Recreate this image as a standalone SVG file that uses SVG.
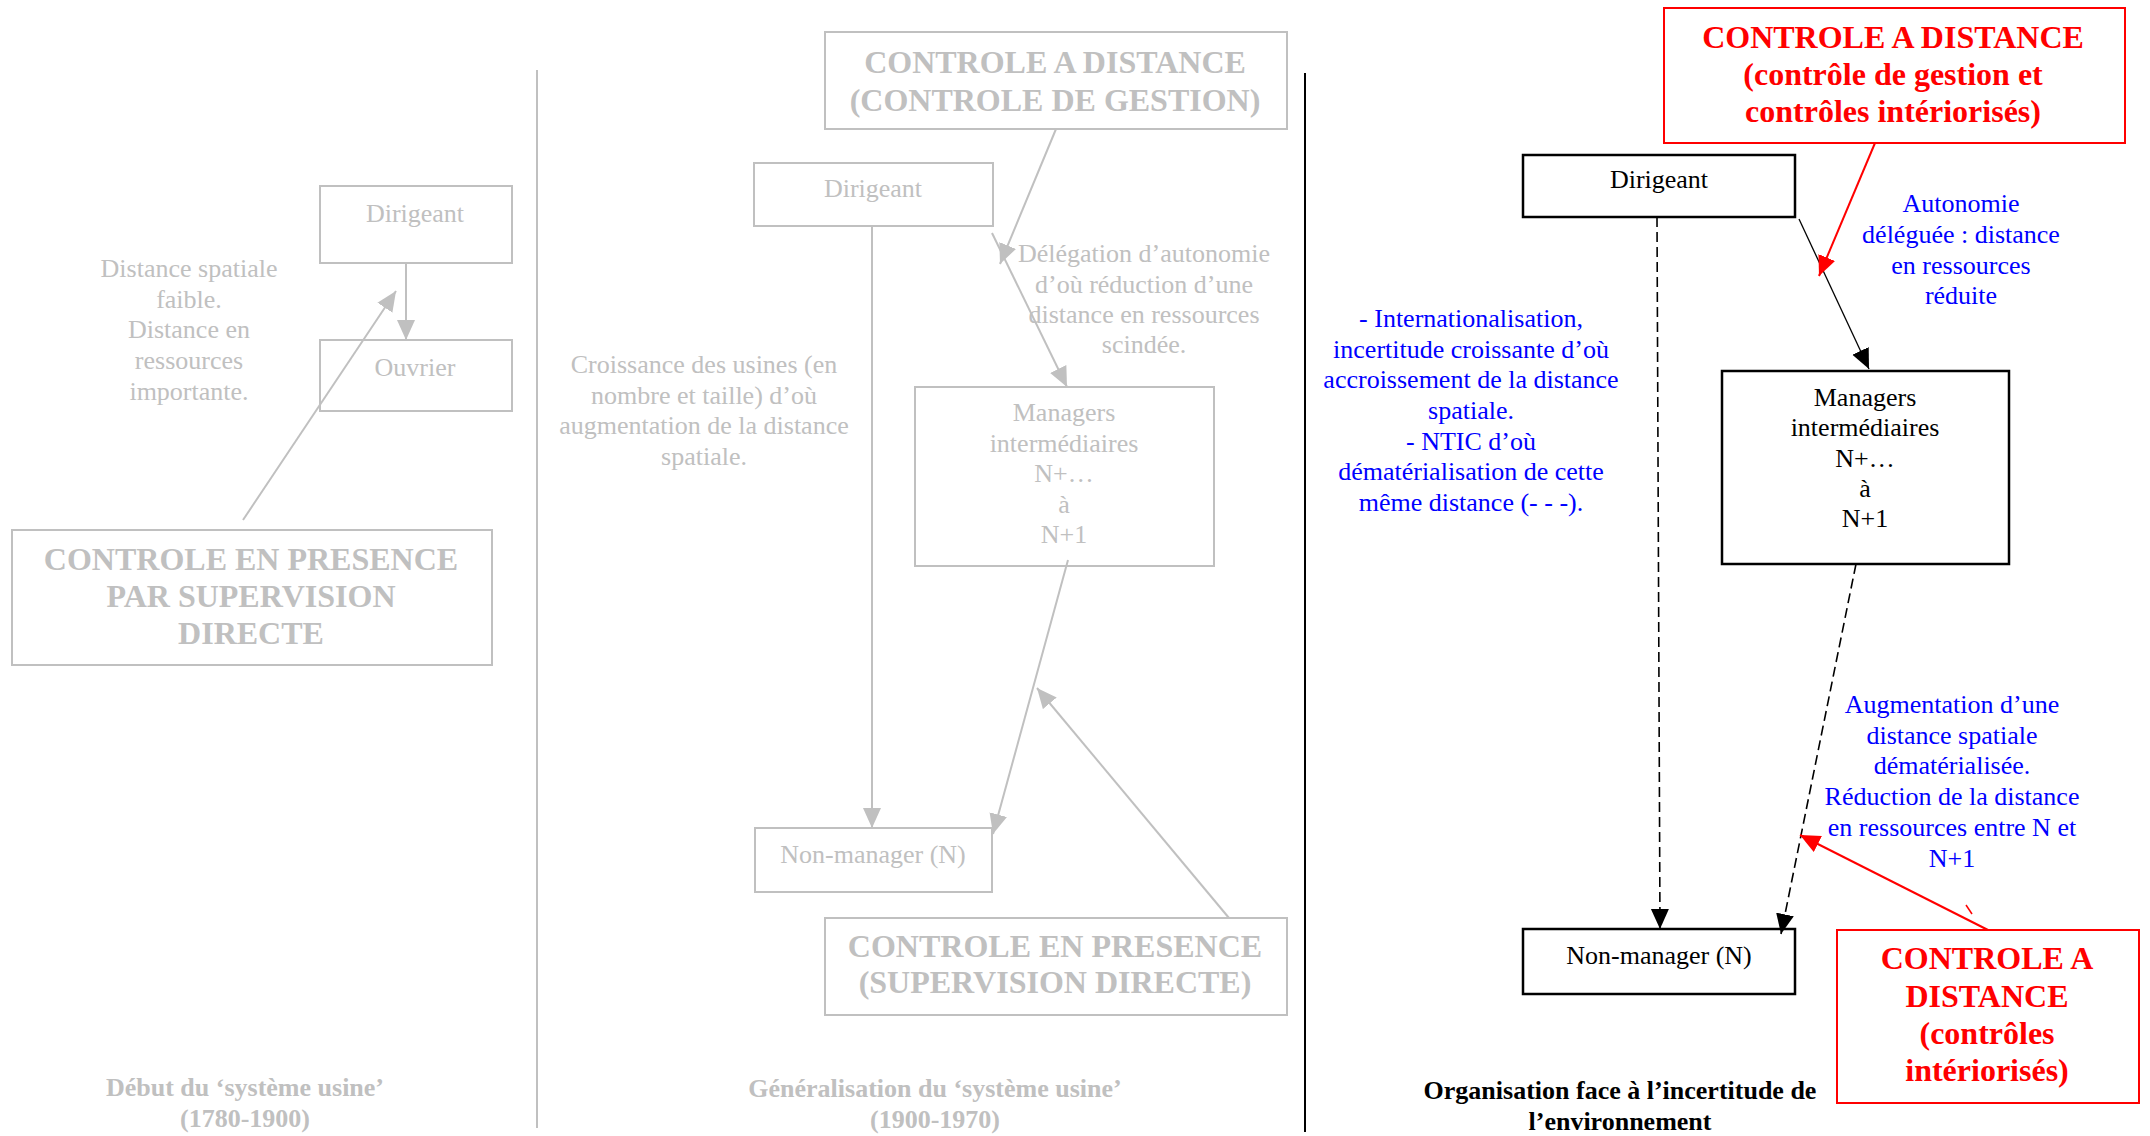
<svg xmlns="http://www.w3.org/2000/svg" width="2150" height="1136" viewBox="0 0 2150 1136">
<defs>
<style>
text{font-family:"Liberation Serif","Times New Roman",serif;font-size:26px;text-anchor:middle}
.g{fill:#c0c0c0}
.b{fill:#0000ff}
.k{fill:#000}
.r{fill:#ff0000;font-weight:bold;font-size:32px}
.big{font-weight:bold;font-size:32px}
.bold{font-weight:bold}
.gbox{fill:#fff;stroke:#c0c0c0;stroke-width:2}
.kbox{fill:#fff;stroke:#000;stroke-width:2.5}
.rbox{fill:#fff;stroke:#ff0000;stroke-width:2}
.gl{stroke:#c0c0c0;stroke-width:2;fill:none}
.kl{stroke:#000;stroke-width:1.3;fill:none}
.kd{stroke:#000;stroke-width:1.6;fill:none;stroke-dasharray:10,5}
.rl{stroke:#ff0000;stroke-width:2;fill:none}
</style>
<marker id="ag" markerUnits="userSpaceOnUse" markerWidth="22" markerHeight="20" refX="20" refY="9" orient="auto"><path d="M0,0 L20,9 L0,18 Z" fill="#c0c0c0"/></marker>
<marker id="ak" markerUnits="userSpaceOnUse" markerWidth="22" markerHeight="20" refX="20" refY="9" orient="auto"><path d="M0,0 L20,9 L0,18 Z" fill="#000"/></marker>
<marker id="ar" markerUnits="userSpaceOnUse" markerWidth="22" markerHeight="20" refX="20" refY="9" orient="auto"><path d="M0,0 L20,9 L0,18 Z" fill="#ff0000"/></marker>
</defs>
<rect width="2150" height="1136" fill="#fff"/>

<g id="dividers">
<line x1="537" y1="70" x2="537" y2="1128" stroke="#c0c0c0" stroke-width="2"/>
<line x1="1305" y1="73" x2="1305" y2="1132" stroke="#000" stroke-width="2"/>
</g>

<g id="left-dirigeant"><rect class="gbox" x="320" y="186" width="192" height="77"/><text class="g" x="415" y="222">Dirigeant</text></g>
<g id="left-ouvrier"><rect class="gbox" x="320" y="340" width="192" height="71"/><text class="g" x="415" y="376">Ouvrier</text></g>
<g id="left-controle"><rect class="gbox" x="12" y="530" width="480" height="135"/>
<text class="g big" x="251" y="570">CONTROLE EN PRESENCE</text>
<text class="g big" x="251" y="607">PAR SUPERVISION</text>
<text class="g big" x="251" y="644">DIRECTE</text></g>
<g id="left-note"><text class="g" x="189" y="277">Distance spatiale</text><text class="g" x="189" y="308">faible.</text><text class="g" x="189" y="338">Distance en</text><text class="g" x="189" y="369">ressources</text><text class="g" x="189" y="400">importante.</text></g>
<g id="left-caption"><text class="g bold" x="245" y="1096">Début du ‘système usine’</text><text class="g bold" x="245" y="1127">(1780-1900)</text></g>

<g id="mid-controle-distance"><rect class="gbox" x="825" y="32" width="462" height="97"/>
<text class="g big" x="1055" y="73">CONTROLE A DISTANCE</text><text class="g big" x="1055" y="111">(CONTROLE DE GESTION)</text></g>
<g id="mid-dirigeant"><rect class="gbox" x="754" y="163" width="239" height="63"/><text class="g" x="873" y="197">Dirigeant</text></g>
<g id="mid-managers"><rect class="gbox" x="915" y="387" width="299" height="179"/>
<text class="g" x="1064" y="421">Managers</text><text class="g" x="1064" y="452">intermédiaires</text><text class="g" x="1064" y="482">N+…</text><text class="g" x="1064" y="513">à</text><text class="g" x="1064" y="543">N+1</text></g>
<g id="mid-nonmanager"><rect class="gbox" x="755" y="828" width="237" height="64"/><text class="g" x="873" y="863">Non-manager (N)</text></g>
<g id="mid-controle-presence"><rect class="gbox" x="825" y="918" width="462" height="97"/>
<text class="g big" x="1055" y="957">CONTROLE EN PRESENCE</text><text class="g big" x="1055" y="993">(SUPERVISION DIRECTE)</text></g>
<g id="mid-note-delegation"><text class="g" x="1144" y="262">Délégation d’autonomie</text><text class="g" x="1144" y="293">d’où réduction d’une</text><text class="g" x="1144" y="323">distance en ressources</text><text class="g" x="1144" y="353">scindée.</text></g>
<g id="mid-note-croissance"><text class="g" x="704" y="373">Croissance des usines (en</text><text class="g" x="704" y="404">nombre et taille) d’où</text><text class="g" x="704" y="434">augmentation de la distance</text><text class="g" x="704" y="465">spatiale.</text></g>
<g id="mid-caption"><text class="g bold" x="935" y="1097">Généralisation du ‘système usine’</text><text class="g bold" x="935" y="1128">(1900-1970)</text></g>

<g id="right-controle-distance"><rect class="rbox" x="1664" y="8" width="461" height="135"/>
<text class="r" x="1893" y="48">CONTROLE A DISTANCE</text><text class="r" x="1893" y="85">(contrôle de gestion et</text><text class="r" x="1893" y="122">contrôles intériorisés)</text></g>
<g id="right-dirigeant"><rect class="kbox" x="1523" y="155" width="272" height="62"/><text class="k" x="1659" y="188">Dirigeant</text></g>
<g id="right-managers"><rect class="kbox" x="1722" y="371" width="287" height="193"/>
<text class="k" x="1865" y="406">Managers</text><text class="k" x="1865" y="436">intermédiaires</text><text class="k" x="1865" y="467">N+…</text><text class="k" x="1865" y="497">à</text><text class="k" x="1865" y="527">N+1</text></g>
<g id="right-nonmanager"><rect class="kbox" x="1523" y="929" width="272" height="65"/><text class="k" x="1659" y="964">Non-manager (N)</text></g>
<g id="right-controle-interiorise"><rect class="rbox" x="1837" y="930" width="302" height="173"/>
<text class="r" x="1987" y="969">CONTROLE A</text><text class="r" x="1987" y="1007">DISTANCE</text><text class="r" x="1987" y="1044">(contrôles</text><text class="r" x="1987" y="1081">intériorisés)</text></g>
<g id="right-note-autonomie"><text class="b" x="1961" y="212">Autonomie</text><text class="b" x="1961" y="243">déléguée : distance</text><text class="b" x="1961" y="274">en ressources</text><text class="b" x="1961" y="304">réduite</text></g>
<g id="right-note-internationalisation"><text class="b" x="1471" y="327">- Internationalisation,</text><text class="b" x="1471" y="358">incertitude croissante d’où</text><text class="b" x="1471" y="388">accroissement de la distance</text><text class="b" x="1471" y="419">spatiale.</text><text class="b" x="1471" y="450">- NTIC d’où</text><text class="b" x="1471" y="480">dématérialisation de cette</text><text class="b" x="1471" y="511">même distance (- - -).</text></g>
<g id="right-note-augmentation"><text class="b" x="1952" y="713">Augmentation d’une</text><text class="b" x="1952" y="744">distance spatiale</text><text class="b" x="1952" y="774">dématérialisée.</text><text class="b" x="1952" y="805">Réduction de la distance</text><text class="b" x="1952" y="836">en ressources entre N et</text><text class="b" x="1952" y="867">N+1</text></g>
<g id="right-caption"><text class="k bold" x="1620" y="1099">Organisation face à l’incertitude de</text><text class="k bold" x="1620" y="1130">l’environnement</text></g>

<g id="connectors">
<line class="gl" x1="406" y1="263" x2="406" y2="340" marker-end="url(#ag)"/>
<line class="gl" x1="243" y1="520" x2="396" y2="291" marker-end="url(#ag)"/>
<line class="gl" x1="872" y1="226" x2="872" y2="828" marker-end="url(#ag)"/>
<line class="gl" x1="1056" y1="129" x2="1000" y2="264" marker-end="url(#ag)"/>
<line class="gl" x1="992" y1="233" x2="1067" y2="387" marker-end="url(#ag)"/>
<line class="gl" x1="1068" y1="560" x2="993" y2="834" marker-end="url(#ag)"/>
<line class="gl" x1="1229" y1="918" x2="1037" y2="688" marker-end="url(#ag)"/>
<line class="kl" x1="1799" y1="219" x2="1869" y2="369" marker-end="url(#ak)"/>
<line class="rl" x1="1875" y1="143" x2="1819" y2="276" marker-end="url(#ar)"/>
<line class="kd" x1="1657" y1="217" x2="1660" y2="929" marker-end="url(#ak)"/>
<line class="kd" x1="1856" y1="564" x2="1781" y2="934" marker-end="url(#ak)"/>
<line class="rl" x1="1988" y1="930" x2="1800" y2="835" marker-end="url(#ar)"/>
<line stroke="#ff0000" stroke-width="1.5" x1="1966" y1="905" x2="1972" y2="914"/>
</g>
</svg>
